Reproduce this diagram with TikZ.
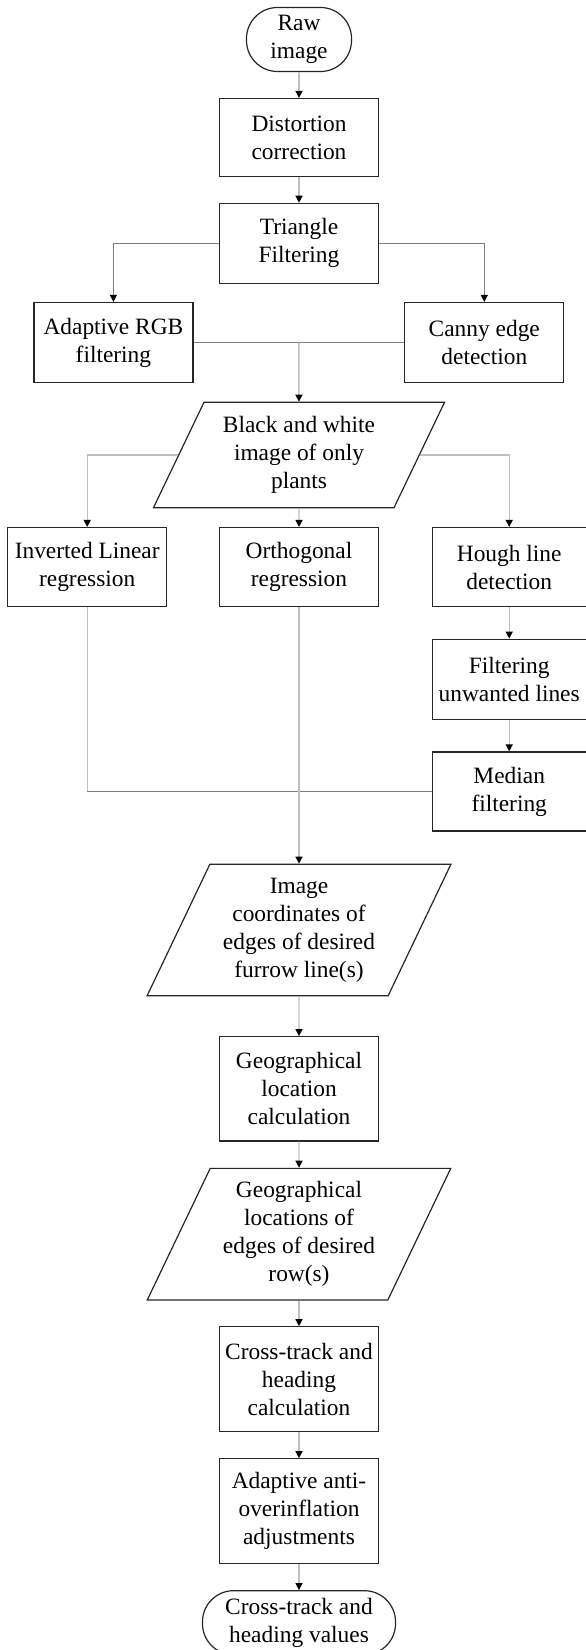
\documentclass[tikz,border=0pt]{standalone}
\usepackage{fontspec}
\setmainfont{Liberation Serif}
\usetikzlibrary{shapes.geometric, arrows.meta, calc}
\tikzset{every node/.style={font=\fontsize{23.4}{28}\selectfont},
	link/.style={draw=black!25, line width=1.4pt},
	flow/.style={link, -{Triangle[black, width=7pt, length=7pt]}},
	joint/.style={draw=black!50, line width=1pt},
	branch/.style={joint, -{Triangle[black, width=7pt, length=7pt]}}}

\begin{document}
\begin{tikzpicture} [process/.style={draw=black!85, line width=1.2pt, align=center, inner xsep=4pt, minimum width=159pt, minimum height=79pt}, tallbox/.style={process, minimum height=105pt}, terminal/.style={draw=black!85, line width=1.2pt, align=center, inner xsep=4pt, rounded corners=31pt, minimum height=64pt}, data/.style={trapezium, trapezium left angle=63.3, trapezium right angle=116.7, trapezium stretches=true, draw=black!85, line width=1.2pt, align=center}]
	\useasboundingbox (0,0) rectangle (586pt,-1650pt);

	\node[terminal, minimum width=105pt] (raw) at (299pt,-39.5pt) {Raw\\image};
	\node[process, below of=raw, node distance=98pt, minimum height=78pt] (dist) {Distortion\\correction};
	\node[process, below of=dist, node distance=105.8pt, minimum height=80pt] (tri) {Triangle\\Filtering};

	\node[process, below of=tri, node distance=99.2pt, xshift=-185.6pt, minimum height=80pt] (rgb) {Adaptive RGB\\filtering};
	\node[process, right of=rgb, node distance=370.9pt, minimum height=80pt] (canny) {Canny edge\\detection};

	\node[data, below of=tri, node distance=211.7pt, minimum width=291.7pt, minimum height=105.4pt] (bw) {Black and white\\image of only\\plants};

	\node[process, below of=bw, node distance=112pt] (orth) {Orthogonal\\regression};
	\node[process, left of=orth, node distance=211.8pt] (inv) {Inverted Linear\\regression};
	\node[process, right of=orth, node distance=210.2pt, minimum width=154pt] (hough) {Hough line\\detection};
	\node[process, below of=hough, node distance=112.2pt, minimum width=154pt, minimum height=80pt] (filt) {Filtering\\unwanted lines};
	\node[process, below of=filt, node distance=112.2pt, minimum width=154pt] (median) {Median\\filtering};

	\node[data, below of=orth, node distance=363pt, minimum width=304.3pt, minimum height=131.4pt] (img) {Image\\coordinates of\\edges of desired\\furrow line(s)};
	\node[tallbox, below of=img, node distance=158.8pt, minimum height=104.3pt] (geocalc) {Geographical\\location\\calculation};
	\node[data, below of=geocalc, node distance=145.4pt, minimum width=304.3pt, minimum height=131.7pt] (geoloc) {Geographical\\locations of\\edges of desired\\row(s)};
	\node[tallbox, below of=geoloc, node distance=145.1pt] (cross) {Cross-track and\\heading\\calculation};
	\node[tallbox, below of=cross, node distance=132pt] (adapt) {Adaptive anti-\\overinflation\\adjustments};
	\node[terminal, below of=adapt, node distance=111.4pt, minimum width=193pt] (final) {Cross-track and\\heading values};

	\draw[flow] (raw) -- (dist);
	\draw[flow] (dist) -- (tri);
	\draw[branch] (tri) -| (rgb);
	\draw[branch] (tri) -| (canny);
	\draw[joint] (rgb) -- (canny);
	\coordinate (m1) at ($(rgb)!.5!(canny)$);
	\draw[flow] (m1) -- (bw);

	\draw[flow] (bw.left side) -| (inv);
	\draw[flow] (bw) -- (orth);
	\draw[flow] (bw.right side) -| (hough);
	\draw[flow] (hough) -- (filt);
	\draw[flow] (filt) -- (median);
	\coordinate (j1) at (inv |- median);
	\draw[link] (inv) -- (j1);
	\draw[joint] (j1) -- (median);
	\draw[flow] (orth) -- (img);

	\draw[flow] (img) -- (geocalc);
	\draw[flow] (geocalc) -- (geoloc);
	\draw[flow] (geoloc) -- (cross);
	\draw[flow] (cross) -- (adapt);
	\draw[flow] (adapt) -- (final);
\end{tikzpicture}
\end{document}
